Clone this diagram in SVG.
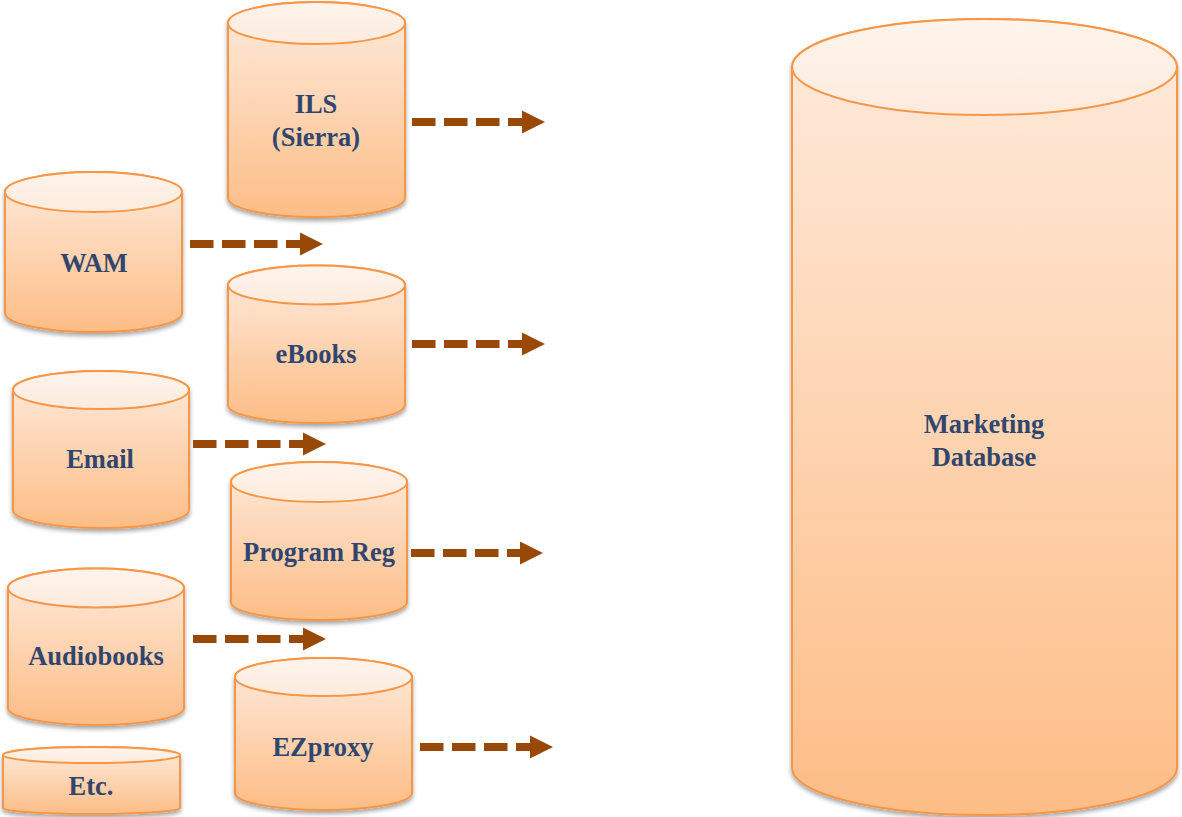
<svg xmlns="http://www.w3.org/2000/svg" width="1182" height="817" viewBox="0 0 1182 817">
<defs>
<linearGradient id="body" x1="0" y1="0" x2="0" y2="1">
<stop offset="0" stop-color="#FEEBDD"/>
<stop offset="1" stop-color="#FDBD86"/>
</linearGradient>
<linearGradient id="topg" x1="0" y1="0" x2="0" y2="1">
<stop offset="0" stop-color="#FEF4EC"/>
<stop offset="1" stop-color="#FDEBDD"/>
</linearGradient>
<filter id="sh" x="-10%" y="-10%" width="120%" height="125%">
<feDropShadow dx="0" dy="3" stdDeviation="2.2" flood-color="#000" flood-opacity="0.35"/>
</filter>
</defs>
<style>
.body{fill:url(#body);stroke:#F79646;stroke-width:2;filter:url(#sh)}
.top{fill:url(#topg);stroke:#F79646;stroke-width:2}
.lbl{font-family:"Liberation Serif","Times New Roman",serif;font-weight:bold;font-size:26.5px;fill:#30466E;text-anchor:middle}
.dash{stroke:#984807;stroke-width:8;stroke-dasharray:23.5 8.5;fill:none}
.head{fill:#984807}
</style>
<rect width="1182" height="817" fill="#FFFFFF"/>

<g id="ils">
<path class="body" d="M228,23 L228,198 A88.5,19 0 0 0 405,198 L405,23 A88.5,21 0 0 0 228,23 Z"/>
<ellipse class="top" cx="316.5" cy="23" rx="88.5" ry="21"/>
<text class="lbl" x="316" y="113">ILS</text>
<text class="lbl" x="316" y="146">(Sierra)</text>
</g>

<g id="wam">
<path class="body" d="M5,192 L5,313 A88.5,19 0 0 0 182,313 L182,192 A88.5,20 0 0 0 5,192 Z"/>
<ellipse class="top" cx="93.5" cy="192" rx="88.5" ry="20"/>
<text class="lbl" x="94" y="272">WAM</text>
</g>

<g id="ebooks">
<path class="body" d="M228,285 L228,405 A88.5,18 0 0 0 405,405 L405,285 A88.5,19.5 0 0 0 228,285 Z"/>
<ellipse class="top" cx="316.5" cy="285" rx="88.5" ry="19.5"/>
<text class="lbl" x="316" y="363">eBooks</text>
</g>

<g id="email">
<path class="body" d="M13,390 L13,510 A88,18 0 0 0 189,510 L189,390 A88,19 0 0 0 13,390 Z"/>
<ellipse class="top" cx="101" cy="390" rx="88" ry="19"/>
<text class="lbl" x="100" y="468">Email</text>
</g>

<g id="programreg">
<path class="body" d="M231,482 L231,602 A88,18 0 0 0 407,602 L407,482 A88,20 0 0 0 231,482 Z"/>
<ellipse class="top" cx="319" cy="482" rx="88" ry="20"/>
<text class="lbl" x="319" y="561">Program Reg</text>
</g>

<g id="audiobooks">
<path class="body" d="M8,588 L8,708 A88,17 0 0 0 184,708 L184,588 A88,19.5 0 0 0 8,588 Z"/>
<ellipse class="top" cx="96" cy="588" rx="88" ry="19.5"/>
<text class="lbl" x="96" y="665">Audiobooks</text>
</g>

<g id="ezproxy">
<path class="body" d="M235,677 L235,793 A88.5,17 0 0 0 412,793 L412,677 A88.5,19 0 0 0 235,677 Z"/>
<ellipse class="top" cx="323.5" cy="677" rx="88.5" ry="19"/>
<text class="lbl" x="323" y="756">EZproxy</text>
</g>

<g id="etc">
<path class="body" d="M3,755 L3,808 A88.5,6 0 0 0 180,808 L180,755 A88.5,8 0 0 0 3,755 Z"/>
<ellipse class="top" cx="91.5" cy="755" rx="88.5" ry="8"/>
<text class="lbl" x="91" y="795">Etc.</text>
</g>

<g id="marketing">
<path class="body" d="M792,67 L792,768 A192.5,47 0 0 0 1177,768 L1177,67 A192.5,48 0 0 0 792,67 Z"/>
<ellipse class="top" cx="984.5" cy="67" rx="192.5" ry="48"/>
<text class="lbl" x="984" y="433">Marketing</text>
<text class="lbl" x="984" y="466">Database</text>
</g>

<g id="connectors">
<line class="dash" x1="412" y1="122" x2="524" y2="122"/>
<polygon class="head" points="522,110.5 545,122 522,133.5"/>
<line class="dash" x1="190" y1="244" x2="302" y2="244"/>
<polygon class="head" points="300,232.5 323,244 300,255.5"/>
<line class="dash" x1="412" y1="344" x2="524" y2="344"/>
<polygon class="head" points="522,332.5 545,344 522,355.5"/>
<line class="dash" x1="193" y1="444" x2="305" y2="444"/>
<polygon class="head" points="303,432.5 326,444 303,455.5"/>
<line class="dash" x1="411" y1="553" x2="522" y2="553"/>
<polygon class="head" points="520,541.5 543,553 520,564.5"/>
<line class="dash" x1="193" y1="639" x2="305" y2="639"/>
<polygon class="head" points="303,627.5 326,639 303,650.5"/>
<line class="dash" x1="420" y1="747" x2="532" y2="747"/>
<polygon class="head" points="530,735.5 553,747 530,758.5"/>
</g>
</svg>
